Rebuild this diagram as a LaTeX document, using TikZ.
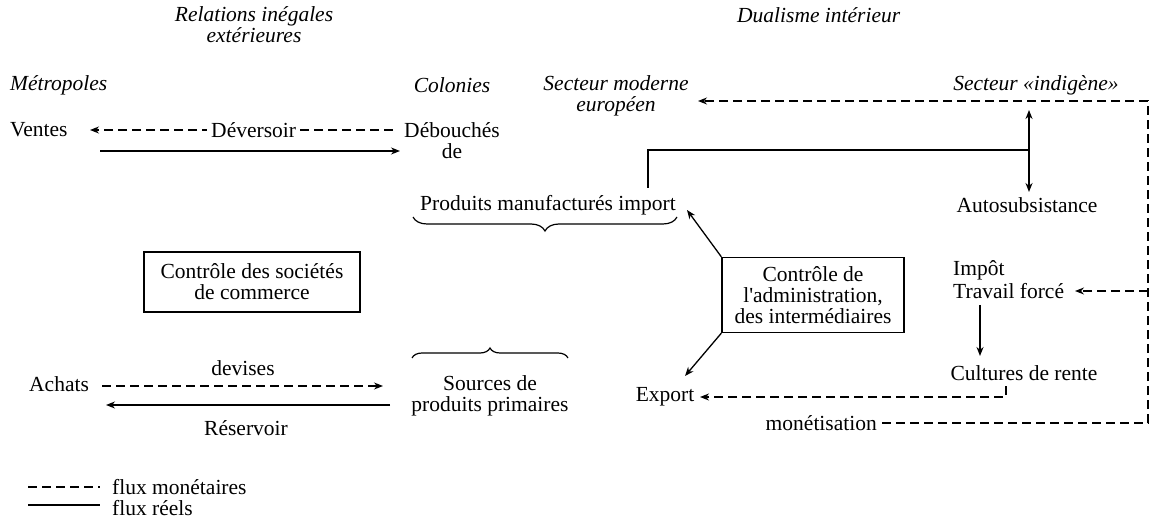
\documentclass[tikz,border=0pt]{standalone}
\usepackage{fontspec}
\setmainfont{Liberation Serif}
\usetikzlibrary{arrows.meta,decorations.pathreplacing}
\begin{document}
\begin{tikzpicture}[x=1pt,y=-1pt,
  every node/.style={font=\fontsize{21.5}{21}\selectfont, inner sep=0pt},
  it/.style={font=\fontsize{21.5}{21}\selectfont\itshape},
  box/.style={draw, line width=1.3pt, align=center},
  flow/.style={line width=1.3pt, -{Stealth[length=9pt,width=7pt]}},
  money/.style={line width=1.3pt, dash pattern=on 9pt off 5pt, -{Stealth[length=9pt,width=7pt]}},
  moneyline/.style={line width=1.3pt, dash pattern=on 9pt off 5pt},
  realline/.style={line width=1.3pt},
  bracedown/.style={decorate, decoration={brace, amplitude=14pt}, line width=1.2pt},
  braceup/.style={decorate, decoration={brace, amplitude=10pt}, line width=1.2pt}]
\useasboundingbox (0,0) rectangle (1153,526);

% headings
\node[it, align=center] (relations) at (254,25) {Relations inégales\\extérieures};
\node[it, anchor=west] (dualisme) at (737,15) {Dualisme intérieur};
\node[it, anchor=west] (metro) at (10,85) {Métropoles};
\node[it] (colonies) at (452,85) {Colonies};
\node[it, align=center] (secmod) at (616,96) {Secteur moderne\\européen};
\node[it] (secind) at (1036,85) {Secteur «indigène»};

% left part
\node[anchor=west] (ventes) at (10,130) {Ventes};
\node[align=center] (debouches) at (452,141) {Débouchés\\de};
\node (produits) at (548,205) {Produits manufacturés import};
\node[box, minimum width=216pt, minimum height=60pt] (commerce) at (252,282) {Contrôle des sociétés\\de commerce};
\node[anchor=west] (achats) at (29,384) {Achats};
\node (devises) at (243,368) {devises};
\node (reservoir) at (246,428) {Réservoir};
\node[align=center] (sources) at (490,396) {Sources de\\produits primaires};

% right part
\node[box, minimum width=182pt, minimum height=75pt] (admin) at (813,295) {Contrôle de\\l\textquotesingle administration,\\des intermédiaires};
\node (autosub) at (1027,205) {Autosubsistance};
\node[anchor=west] (impot) at (953,270) {Impôt};
\node[anchor=west] (travail) at (953,291) {Travail forcé};
\node (cultures) at (1024,373) {Cultures de rente};
\node (export) at (665,397) {Export};
\node[anchor=east] (monet) at (877,423) {monétisation};

% legend
\node[anchor=west] (legm) at (112,487) {flux monétaires};
\node[anchor=west] (legr) at (112,508) {flux réels};

% coordinates
\coordinate (debtip) at (400,151);
\coordinate (ventstart) at (100,151);
\coordinate (deversR) at (393,130);
\coordinate (ventesTip) at (90,130);
\coordinate (achStart) at (102,386);
\coordinate (srcTip) at (383,386);
\coordinate (srcStart) at (390,405);
\coordinate (achTip) at (106,405);
\coordinate (topR) at (1148,101);
\coordinate (botR) at (1148,423);
\coordinate (branchR) at (1148,291);
\coordinate (secTip) at (698,101);
\coordinate (travTip) at (1075,291);
\coordinate (pmStart) at (648,188);
\coordinate (pmCorner) at (648,150);
\coordinate (auJoin) at (1029,150);
\coordinate (auTop) at (1029,110);
\coordinate (auBot) at (1029,192);
\coordinate (tickTop) at (1006,386);
\coordinate (tickBot) at (1006,397);
\coordinate (expTip) at (700,397);
\coordinate (impTip) at (687,210);
\coordinate (exTip) at (685,376);
\coordinate (cultTop) at (980,305);
\coordinate (cultTip) at (980,356);
\coordinate (monStart) at (882,423);

% Déversoir / Débouchés
\draw[money] (deversR) -- node[pos=0.46, fill=white, inner xsep=4pt] (deversoir) {Déversoir} (ventesTip);
\draw[flow] (ventstart) -- (debtip);

% Achats / Sources
\draw[money] (achStart) -- (srcTip);
\draw[flow] (srcStart) -- (achTip);

% braces
\draw[bracedown] (677,217) -- (413,217);
\draw[braceup] (412,358) -- (568,358);

% admin arrows
\draw[flow] (admin.north west) -- (impTip);
\draw[flow] (admin.south west) -- (exTip);

% import - autosubsistance
\draw[realline] (pmStart) -- (pmCorner) -- (auJoin);
\draw[line width=1.3pt, {Stealth[length=9pt,width=7pt]}-{Stealth[length=9pt,width=7pt]}] (auTop) -- (auBot);

% fiscal loop
\draw[money] (monStart) -- (botR) -- (topR) -- (secTip);
\draw[money] (branchR) -- (travTip);
\draw[flow] (cultTop) -- (cultTip);
\draw[money] (tickTop) -- (tickBot) -- (expTip);

% legend lines
\draw[moneyline] (28,487) -- (100,487);
\draw[realline] (28,505) -- (100,505);
\end{tikzpicture}
\end{document}
